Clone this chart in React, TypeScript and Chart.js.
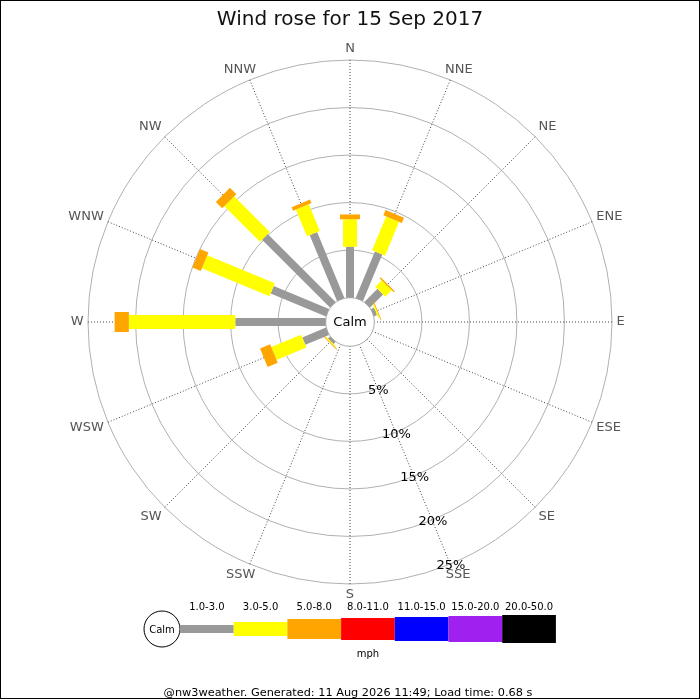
import { useEffect, useRef } from "react";
import { Chart, registerables } from "chart.js";

Chart.register(...registerables);

// ---- data ----
const DIRECTIONS = ["N", "NNE", "NE", "ENE", "E", "ESE", "SE", "SSE", "S", "SSW", "SW", "WSW", "W", "WNW", "NW", "NNW"];
const SPEED_BINS = ["1.0-3.0", "3.0-5.0", "5.0-8.0", "8.0-11.0", "11.0-15.0", "15.0-20.0", "20.0-50.0"];
// percentage of time per direction for each speed bin (mph)
const PCT_1_3 = [5.35, 5.3, 1.95, 0.35, 0, 0, 0, 0, 0, 0, 0.3, 2.7, 9.5, 6.3, 10.1, 7.5];
const PCT_3_5 = [2.9, 3.85, 0.95, 0.15, 0, 0, 0, 0, 0, 0, 0.12, 3.4, 11.2, 7.7, 5.3, 3.05];
const PCT_5_8 = [0.5, 0.6, 0.15, 0.08, 0, 0, 0, 0, 0, 0, 0.08, 1.15, 1.5, 0.95, 0.95, 0.4];
const RING_TICKS = [5, 10, 15, 20, 25];
const TICK_LABELS = ["5%", "10%", "15%", "20%", "25%"];
const TICK_LABEL_DIRECTION = "SSE";
const TITLE = "Wind rose for 15 Sep 2017";
const FOOTER = "@nw3weather. Generated: 11 Aug 2026 11:49; Load time: 0.68 s";
const UNIT = "mph";
const CALM_LABEL = "Calm";

// ---- styles ----
const BIN_COLORS = ["#999999", "#ffff00", "#ffa500", "#ff0000", "#0000ff", "#a020f0", "#000000"];
const BIN_WIDTHS = [8, 14, 20, 22, 24, 26, 28];
const CALM_HOLE = 2.56; // scale units reserved for the calm circle
const SCALE_MAX = 25;
const TARGET = { x: 350, y: 322, r: 262 };
const LEGEND = { circleX: 162, y: 629, circleR: 18, x0: 180, segW: 53.7, labelY: 607, unitY: 654 };
const FONT = "DejaVu Sans";
const POINT_LABEL = { size: 13, color: "#555555", margin: 4.5, boxH: 13 };

// fraction of the label box shifted left (dx) and up (dy) for a math angle a (radians, ccw from east)
function labelShift(a: number) {
  const P = Math.PI;
  let dx = 0;
  let dy = 0;
  if (a >= (7 * P) / 4 || a <= P / 4) dx = 0;
  if (a >= P / 4 && a <= (3 * P) / 4) dx = ((a - P / 4) * 2) / P;
  if (a >= (3 * P) / 4 && a <= (5 * P) / 4) dx = 1;
  if (a >= (5 * P) / 4 && a <= (7 * P) / 4) dx = 1 - ((a - (5 * P) / 4) * 2) / P;
  if (a >= (7 * P) / 4) dy = ((a - P - (3 * P) / 4) * 2) / P;
  if (a <= P / 4) dy = 0.5 + (a * 2) / P;
  if (a >= P / 4 && a <= (3 * P) / 4) dy = 1;
  if (a >= (3 * P) / 4 && a <= (5 * P) / 4) dy = 1 - ((a - (3 * P) / 4) * 2) / P;
  if (a >= (5 * P) / 4 && a <= (7 * P) / 4) dy = 0;
  return { dx, dy };
}

const windRosePlugin = {
  id: "windRose",
  afterDatasetsDraw(chart: any) {
    const s = chart.scales.r;
    const ctx = chart.ctx;
    const labels: string[] = chart.data.labels;
    const n = labels.length;
    const ds = chart.data.datasets;
    const rc = s.getDistanceFromCenterForValue(0);
    ctx.save();
    // direction labels around the outer ring
    ctx.font = `${POINT_LABEL.size}px "${FONT}"`;
    ctx.fillStyle = POINT_LABEL.color;
    ctx.textAlign = "center";
    ctx.textBaseline = "middle";
    for (let i = 0; i < n; i++) {
      let a = Math.PI / 2 - s.getIndexAngle(i);
      while (a < 0) a += Math.PI * 2;
      while (a >= Math.PI * 2) a -= Math.PI * 2;
      const w = ctx.measureText(labels[i]).width;
      const h = POINT_LABEL.boxH;
      const { dx, dy } = labelShift(a);
      const p = s.getPointPosition(i, s.drawingArea + POINT_LABEL.margin);
      ctx.fillText(labels[i], p.x - dx * w + w / 2, p.y - dy * h + h / 2);
    }
    // calm circle
    ctx.beginPath();
    ctx.arc(s.xCenter, s.yCenter, rc, 0, Math.PI * 2);
    ctx.fillStyle = "#ffffff";
    ctx.fill();
    ctx.lineWidth = 1;
    ctx.strokeStyle = "#aaaaaa";
    ctx.stroke();
    // bars
    for (let i = 0; i < n; i++) {
      const angle = s.getIndexAngle(i) - Math.PI / 2;
      let cum = 0;
      ctx.save();
      ctx.translate(s.xCenter, s.yCenter);
      ctx.rotate(angle);
      ds.forEach((d: any, k: number) => {
        const v = d.data[i];
        if (!v) return;
        const r0 = s.getDistanceFromCenterForValue(cum);
        cum += v;
        const r1 = s.getDistanceFromCenterForValue(cum);
        const w = BIN_WIDTHS[k];
        ctx.fillStyle = BIN_COLORS[k];
        ctx.fillRect(r0, -w / 2, r1 - r0, w);
      });
      ctx.restore();
    }
    // calm text
    ctx.fillStyle = "#000";
    ctx.font = `13px "${FONT}"`;
    ctx.textAlign = "center";
    ctx.textBaseline = "middle";
    ctx.fillText(CALM_LABEL, s.xCenter, s.yCenter + 1);
    // ring labels
    const idx = DIRECTIONS.indexOf(TICK_LABEL_DIRECTION);
    RING_TICKS.forEach((v, j) => {
      const p = s.getPointPosition(idx, s.getDistanceFromCenterForValue(v) + 2);
      ctx.fillText(TICK_LABELS[j], p.x, p.y);
    });
    ctx.restore();
  },
  afterDraw(chart: any) {
    const ctx = chart.ctx;
    ctx.save();
    // legend
    ctx.beginPath();
    ctx.arc(LEGEND.circleX, LEGEND.y, LEGEND.circleR, 0, Math.PI * 2);
    ctx.fillStyle = "#fff";
    ctx.fill();
    ctx.lineWidth = 1;
    ctx.strokeStyle = "#000";
    ctx.stroke();
    ctx.fillStyle = "#000";
    ctx.font = `10px "${FONT}"`;
    ctx.textAlign = "center";
    ctx.textBaseline = "middle";
    ctx.fillText(CALM_LABEL, LEGEND.circleX, LEGEND.y + 1);
    SPEED_BINS.forEach((lab, k) => {
      const x = LEGEND.x0 + k * LEGEND.segW;
      const h = BIN_WIDTHS[k];
      ctx.fillStyle = BIN_COLORS[k];
      ctx.fillRect(x, LEGEND.y - h / 2, LEGEND.segW, h);
      ctx.fillStyle = "#000";
      ctx.font = `10px "${FONT}"`;
      ctx.fillText(lab, x + LEGEND.segW / 2, LEGEND.labelY);
    });
    ctx.font = `10px "${FONT}"`;
    ctx.fillText(UNIT, LEGEND.x0 + (SPEED_BINS.length * LEGEND.segW) / 2, LEGEND.unitY);
    // footer
    ctx.font = `11.3px "${FONT}"`;
    ctx.fillText(FOOTER, 348, 693);
    // frame
    ctx.strokeStyle = "#000";
    ctx.lineWidth = 1;
    ctx.strokeRect(0.5, 0.5, 699, 698);
    ctx.restore();
  },
};

export default function App() {
  const ref = useRef<HTMLCanvasElement | null>(null);
  useEffect(() => {
    if (!ref.current) return;
    Chart.defaults.font.family = FONT;
    const layoutPad = { left: 88, right: 88, top: 0, bottom: 116 };
    const titlePad = { top: 8, bottom: 28 };
    const series = [PCT_1_3, PCT_3_5, PCT_5_8];
    const chart = new Chart(ref.current, {
      type: "radar",
      data: {
        labels: DIRECTIONS,
        datasets: series.map((d, k) => ({
          label: SPEED_BINS[k],
          data: d,
          borderWidth: 0,
          pointRadius: 0,
          pointHoverRadius: 0,
          backgroundColor: "rgba(0,0,0,0)",
          borderColor: BIN_COLORS[k],
          fill: false,
        })),
      },
      options: {
        responsive: false,
        animation: false,
        events: [],
        layout: { padding: layoutPad },
        plugins: {
          legend: { display: false },
          tooltip: { enabled: false },
          title: {
            display: true,
            text: TITLE,
            color: "#111",
            font: { family: FONT, size: 20, weight: "normal" },
            padding: titlePad,
          },
        },
        scales: {
          r: {
            min: -CALM_HOLE,
            max: SCALE_MAX,
            afterBuildTicks: (scale: any) => {
              scale.ticks = RING_TICKS.map((v) => ({ value: v }));
            },
            ticks: { display: false },
            grid: { circular: true, color: "#b0b0b0", lineWidth: 1 },
            angleLines: { display: true, color: "#444", lineWidth: 1, borderDash: [1, 2] },
            pointLabels: { display: false },
          },
        },
      } as any,
      plugins: [windRosePlugin],
    });
    for (let k = 0; k < 4; k++) {
      const s: any = chart.scales.r;
      const e = TARGET.r - s.drawingArea;
      const dx = TARGET.x - s.xCenter;
      const dy = TARGET.y - s.yCenter;
      if (Math.abs(e) < 0.5 && Math.abs(dx) < 0.5 && Math.abs(dy) < 0.5) break;
      layoutPad.left += -e + dx;
      layoutPad.right += -e - dx;
      titlePad.bottom += -e + dy;
      layoutPad.bottom += -e - dy;
      (chart.options as any).layout.padding = { ...layoutPad };
      (chart.options as any).plugins.title.padding = { ...titlePad };
      chart.update();
    }
    return () => chart.destroy();
  }, []);
  return (
    <div style={{ position: "absolute", left: 0, top: 0, width: 700, height: 700, background: "#fff" }}>
      <canvas ref={ref} width={700} height={700} style={{ display: "block", width: 700, height: 700 }} />
    </div>
  );
}
